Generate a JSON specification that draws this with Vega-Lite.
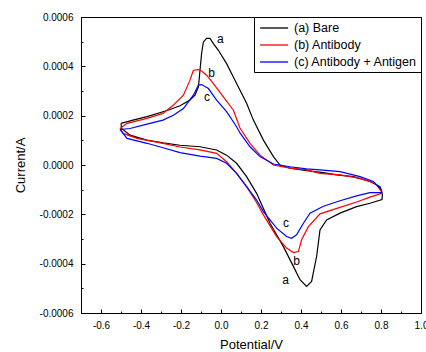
{
  "$schema": "https://vega.github.io/schema/vega-lite/v6.json",
  "autosize": "none",
  "width": 340,
  "height": 296,
  "padding": {"left": 81, "top": 17, "right": 5, "bottom": 39},
  "background": "white",
  "config": {
    "view": {"stroke": "black", "strokeWidth": 1},
    "axis": {"domainColor": "black", "tickColor": "black", "labelColor": "black", "titleColor": "black", "labelFont": "Liberation Sans", "titleFont": "Liberation Sans", "labelFontSize": 10, "titleFontSize": 13, "titleFontWeight": "normal", "grid": false, "labelFlush": false},
    "locale": {"number": {"decimal": ".", "thousands": ",", "grouping": [3], "currency": ["$", ""], "minus": "-"}}
  },
  "resolve": {"axis": {"x": "independent", "y": "independent"}},
  "layer": [
    {
      "data": {"values": [
        {"s":"(a) Bare","i":1,"E":-0.5,"I":0.000169},{"s":"(a) Bare","i":2,"E":-0.44,"I":0.000182},{"s":"(a) Bare","i":3,"E":-0.37,"I":0.000196},{"s":"(a) Bare","i":4,"E":-0.29,"I":0.000216},{"s":"(a) Bare","i":5,"E":-0.255,"I":0.000225},{"s":"(a) Bare","i":6,"E":-0.205,"I":0.00024},{"s":"(a) Bare","i":7,"E":-0.155,"I":0.000263},{"s":"(a) Bare","i":8,"E":-0.13,"I":0.000283},{"s":"(a) Bare","i":9,"E":-0.113,"I":0.000317},{"s":"(a) Bare","i":10,"E":-0.105,"I":0.000384},{"s":"(a) Bare","i":11,"E":-0.097,"I":0.000452},{"s":"(a) Bare","i":12,"E":-0.088,"I":0.000499},{"s":"(a) Bare","i":13,"E":-0.072,"I":0.000513},{"s":"(a) Bare","i":14,"E":-0.055,"I":0.000513},{"s":"(a) Bare","i":15,"E":-0.038,"I":0.000492},{"s":"(a) Bare","i":16,"E":-0.013,"I":0.000465},{"s":"(a) Bare","i":17,"E":0.028,"I":0.000411},{"s":"(a) Bare","i":18,"E":0.078,"I":0.00033},{"s":"(a) Bare","i":19,"E":0.128,"I":0.00025},{"s":"(a) Bare","i":20,"E":0.162,"I":0.000182},{"s":"(a) Bare","i":21,"E":0.212,"I":0.000101},{"s":"(a) Bare","i":22,"E":0.262,"I":0.000034},{"s":"(a) Bare","i":23,"E":0.295,"I":0.0},{"s":"(a) Bare","i":24,"E":0.345,"I":-0.000013},{"s":"(a) Bare","i":25,"E":0.428,"I":-0.000023},{"s":"(a) Bare","i":26,"E":0.512,"I":-0.000031},{"s":"(a) Bare","i":27,"E":0.578,"I":-0.00004},{"s":"(a) Bare","i":28,"E":0.662,"I":-0.000047},{"s":"(a) Bare","i":29,"E":0.745,"I":-0.000067},{"s":"(a) Bare","i":30,"E":0.795,"I":-0.000088},{"s":"(a) Bare","i":31,"E":0.807,"I":-0.00012},{"s":"(a) Bare","i":32,"E":0.805,"I":-0.00014},{"s":"(a) Bare","i":33,"E":0.745,"I":-0.000155},{"s":"(a) Bare","i":34,"E":0.678,"I":-0.000169},{"s":"(a) Bare","i":35,"E":0.595,"I":-0.000195},{"s":"(a) Bare","i":36,"E":0.528,"I":-0.000223},{"s":"(a) Bare","i":37,"E":0.495,"I":-0.000263},{"s":"(a) Bare","i":38,"E":0.478,"I":-0.000371},{"s":"(a) Bare","i":39,"E":0.453,"I":-0.000472},{"s":"(a) Bare","i":40,"E":0.428,"I":-0.000492},{"s":"(a) Bare","i":41,"E":0.395,"I":-0.000465},{"s":"(a) Bare","i":42,"E":0.362,"I":-0.000411},{"s":"(a) Bare","i":43,"E":0.312,"I":-0.000331},{"s":"(a) Bare","i":44,"E":0.245,"I":-0.000236},{"s":"(a) Bare","i":45,"E":0.178,"I":-0.000115},{"s":"(a) Bare","i":46,"E":0.128,"I":-0.000047},{"s":"(a) Bare","i":47,"E":0.078,"I":0.000007},{"s":"(a) Bare","i":48,"E":0.028,"I":0.00004},{"s":"(a) Bare","i":49,"E":-0.022,"I":0.000061},{"s":"(a) Bare","i":50,"E":-0.105,"I":0.000074},{"s":"(a) Bare","i":51,"E":-0.205,"I":0.00008},{"s":"(a) Bare","i":52,"E":-0.29,"I":0.00009},{"s":"(a) Bare","i":53,"E":-0.37,"I":0.000101},{"s":"(a) Bare","i":54,"E":-0.455,"I":0.000121},{"s":"(a) Bare","i":55,"E":-0.497,"I":0.000148},{"s":"(a) Bare","i":56,"E":-0.5,"I":0.000169},
        {"s":"(b) Antibody","i":1,"E":-0.505,"I":0.000148},{"s":"(b) Antibody","i":2,"E":-0.47,"I":0.000169},{"s":"(b) Antibody","i":3,"E":-0.37,"I":0.000189},{"s":"(b) Antibody","i":4,"E":-0.29,"I":0.000209},{"s":"(b) Antibody","i":5,"E":-0.238,"I":0.000243},{"s":"(b) Antibody","i":6,"E":-0.188,"I":0.000283},{"s":"(b) Antibody","i":7,"E":-0.155,"I":0.000344},{"s":"(b) Antibody","i":8,"E":-0.138,"I":0.000384},{"s":"(b) Antibody","i":9,"E":-0.113,"I":0.000387},{"s":"(b) Antibody","i":10,"E":-0.097,"I":0.000381},{"s":"(b) Antibody","i":11,"E":-0.072,"I":0.000364},{"s":"(b) Antibody","i":12,"E":-0.038,"I":0.00033},{"s":"(b) Antibody","i":13,"E":0.012,"I":0.000276},{"s":"(b) Antibody","i":14,"E":0.062,"I":0.000222},{"s":"(b) Antibody","i":15,"E":0.095,"I":0.00015},{"s":"(b) Antibody","i":16,"E":0.145,"I":0.000088},{"s":"(b) Antibody","i":17,"E":0.195,"I":0.00004},{"s":"(b) Antibody","i":18,"E":0.262,"I":0.0},{"s":"(b) Antibody","i":19,"E":0.345,"I":-0.000013},{"s":"(b) Antibody","i":20,"E":0.428,"I":-0.00002},{"s":"(b) Antibody","i":21,"E":0.495,"I":-0.000034},{"s":"(b) Antibody","i":22,"E":0.595,"I":-0.00004},{"s":"(b) Antibody","i":23,"E":0.695,"I":-0.000054},{"s":"(b) Antibody","i":24,"E":0.77,"I":-0.000074},{"s":"(b) Antibody","i":25,"E":0.803,"I":-0.000108},{"s":"(b) Antibody","i":26,"E":0.803,"I":-0.000115},{"s":"(b) Antibody","i":27,"E":0.745,"I":-0.00013},{"s":"(b) Antibody","i":28,"E":0.678,"I":-0.00015},{"s":"(b) Antibody","i":29,"E":0.595,"I":-0.000172},{"s":"(b) Antibody","i":30,"E":0.495,"I":-0.000198},{"s":"(b) Antibody","i":31,"E":0.437,"I":-0.00025},{"s":"(b) Antibody","i":32,"E":0.403,"I":-0.000303},{"s":"(b) Antibody","i":33,"E":0.387,"I":-0.000351},{"s":"(b) Antibody","i":34,"E":0.362,"I":-0.000355},{"s":"(b) Antibody","i":35,"E":0.328,"I":-0.000337},{"s":"(b) Antibody","i":36,"E":0.278,"I":-0.00029},{"s":"(b) Antibody","i":37,"E":0.212,"I":-0.000202},{"s":"(b) Antibody","i":38,"E":0.178,"I":-0.000152},{"s":"(b) Antibody","i":39,"E":0.128,"I":-0.000088},{"s":"(b) Antibody","i":40,"E":0.078,"I":-0.000034},{"s":"(b) Antibody","i":41,"E":0.028,"I":0.000013},{"s":"(b) Antibody","i":42,"E":-0.022,"I":0.000047},{"s":"(b) Antibody","i":43,"E":-0.105,"I":0.000061},{"s":"(b) Antibody","i":44,"E":-0.205,"I":0.000073},{"s":"(b) Antibody","i":45,"E":-0.29,"I":0.000088},{"s":"(b) Antibody","i":46,"E":-0.42,"I":0.000108},{"s":"(b) Antibody","i":47,"E":-0.49,"I":0.000128},{"s":"(b) Antibody","i":48,"E":-0.505,"I":0.000148},
        {"s":"(c) Antibody + Antigen","i":1,"E":-0.505,"I":0.000144},{"s":"(c) Antibody + Antigen","i":2,"E":-0.455,"I":0.000148},{"s":"(c) Antibody + Antigen","i":3,"E":-0.37,"I":0.000166},{"s":"(c) Antibody + Antigen","i":4,"E":-0.29,"I":0.000182},{"s":"(c) Antibody + Antigen","i":5,"E":-0.238,"I":0.000202},{"s":"(c) Antibody + Antigen","i":6,"E":-0.188,"I":0.000229},{"s":"(c) Antibody + Antigen","i":7,"E":-0.138,"I":0.000283},{"s":"(c) Antibody + Antigen","i":8,"E":-0.113,"I":0.000324},{"s":"(c) Antibody + Antigen","i":9,"E":-0.097,"I":0.000326},{"s":"(c) Antibody + Antigen","i":10,"E":-0.063,"I":0.00031},{"s":"(c) Antibody + Antigen","i":11,"E":-0.022,"I":0.000263},{"s":"(c) Antibody + Antigen","i":12,"E":0.028,"I":0.000216},{"s":"(c) Antibody + Antigen","i":13,"E":0.078,"I":0.000155},{"s":"(c) Antibody + Antigen","i":14,"E":0.095,"I":0.00013},{"s":"(c) Antibody + Antigen","i":15,"E":0.145,"I":0.000074},{"s":"(c) Antibody + Antigen","i":16,"E":0.195,"I":0.000034},{"s":"(c) Antibody + Antigen","i":17,"E":0.262,"I":0.000004},{"s":"(c) Antibody + Antigen","i":18,"E":0.345,"I":-0.000007},{"s":"(c) Antibody + Antigen","i":19,"E":0.428,"I":-0.000016},{"s":"(c) Antibody + Antigen","i":20,"E":0.495,"I":-0.00002},{"s":"(c) Antibody + Antigen","i":21,"E":0.595,"I":-0.000027},{"s":"(c) Antibody + Antigen","i":22,"E":0.695,"I":-0.000047},{"s":"(c) Antibody + Antigen","i":23,"E":0.762,"I":-0.000067},{"s":"(c) Antibody + Antigen","i":24,"E":0.803,"I":-0.000101},{"s":"(c) Antibody + Antigen","i":25,"E":0.803,"I":-0.000112},{"s":"(c) Antibody + Antigen","i":26,"E":0.745,"I":-0.000112},{"s":"(c) Antibody + Antigen","i":27,"E":0.678,"I":-0.000125},{"s":"(c) Antibody + Antigen","i":28,"E":0.595,"I":-0.000145},{"s":"(c) Antibody + Antigen","i":29,"E":0.512,"I":-0.000167},{"s":"(c) Antibody + Antigen","i":30,"E":0.445,"I":-0.000195},{"s":"(c) Antibody + Antigen","i":31,"E":0.412,"I":-0.000236},{"s":"(c) Antibody + Antigen","i":32,"E":0.378,"I":-0.000283},{"s":"(c) Antibody + Antigen","i":33,"E":0.353,"I":-0.000297},{"s":"(c) Antibody + Antigen","i":34,"E":0.328,"I":-0.00029},{"s":"(c) Antibody + Antigen","i":35,"E":0.278,"I":-0.000256},{"s":"(c) Antibody + Antigen","i":36,"E":0.212,"I":-0.000189},{"s":"(c) Antibody + Antigen","i":37,"E":0.178,"I":-0.000142},{"s":"(c) Antibody + Antigen","i":38,"E":0.128,"I":-0.000088},{"s":"(c) Antibody + Antigen","i":39,"E":0.078,"I":-0.000034},{"s":"(c) Antibody + Antigen","i":40,"E":0.028,"I":0.000007},{"s":"(c) Antibody + Antigen","i":41,"E":-0.022,"I":0.000027},{"s":"(c) Antibody + Antigen","i":42,"E":-0.105,"I":0.000036},{"s":"(c) Antibody + Antigen","i":43,"E":-0.205,"I":0.00005},{"s":"(c) Antibody + Antigen","i":44,"E":-0.29,"I":0.00007},{"s":"(c) Antibody + Antigen","i":45,"E":-0.37,"I":0.000088},{"s":"(c) Antibody + Antigen","i":46,"E":-0.47,"I":0.000108},{"s":"(c) Antibody + Antigen","i":47,"E":-0.505,"I":0.000144}
      ]},
      "mark": {"type": "line", "strokeWidth": 1.2, "interpolate": "linear"},
      "encoding": {
        "x": {"field": "E", "type": "quantitative", "scale": {"domain": [-0.7, 1.0], "nice": false, "zero": false},
              "axis": {"orient": "bottom", "title": "Potential/V", "values": [-0.6, -0.4, -0.2, 0, 0.2, 0.4, 0.6, 0.8, 1.0], "format": ".1f", "tickSize": -4, "labelPadding": 11, "titlePadding": 8}},
        "y": {"field": "I", "type": "quantitative", "scale": {"domain": [-0.0006, 0.0006], "nice": false, "zero": false},
              "axis": {"orient": "left", "title": "Current/A", "values": [-0.0006, -0.0004, -0.0002, 0, 0.0002, 0.0004, 0.0006], "format": ".4f", "tickSize": -4, "labelPadding": 12, "titlePadding": 12}},
        "color": {"field": "s", "type": "nominal",
                  "scale": {"domain": ["(a) Bare", "(b) Antibody", "(c) Antibody + Antigen"], "range": ["#000000", "#ff0000", "#0000ff"]},
                  "legend": {"title": null, "orient": "top-right", "offset": 0, "padding": 3, "strokeColor": "black", "fillColor": "white", "symbolType": "M-0.7,0H3.3", "symbolSize": 196, "symbolStrokeWidth": 1.3, "labelFont": "Liberation Sans", "labelFontSize": 12.5, "labelColor": "black", "labelOffset": 21, "rowPadding": 2}},
        "order": {"field": "i", "type": "quantitative"}
      }
    },
    {
      "data": {"values": [
        {"t": "a", "E": -0.003, "I": 0.00051},
        {"t": "b", "E": -0.047, "I": 0.000374},
        {"t": "c", "E": -0.07, "I": 0.000274},
        {"t": "c", "E": 0.325, "I": -0.000236},
        {"t": "b", "E": 0.378, "I": -0.000391},
        {"t": "a", "E": 0.323, "I": -0.000466}
      ]},
      "mark": {"type": "text", "font": "Liberation Sans", "fontSize": 12, "color": "black", "align": "center", "baseline": "middle"},
      "encoding": {
        "x": {"field": "E", "type": "quantitative", "axis": {"orient": "bottom", "title": null, "labels": false, "domain": false, "values": [-0.5, -0.3, -0.1, 0.1, 0.3, 0.5, 0.7, 0.9], "tickSize": -2}},
        "y": {"field": "I", "type": "quantitative", "axis": {"orient": "left", "title": null, "labels": false, "domain": false, "values": [-0.0005, -0.0003, -0.0001, 0.0001, 0.0003, 0.0005], "tickSize": -2}},
        "text": {"field": "t"}
      }
    }
  ]
}
